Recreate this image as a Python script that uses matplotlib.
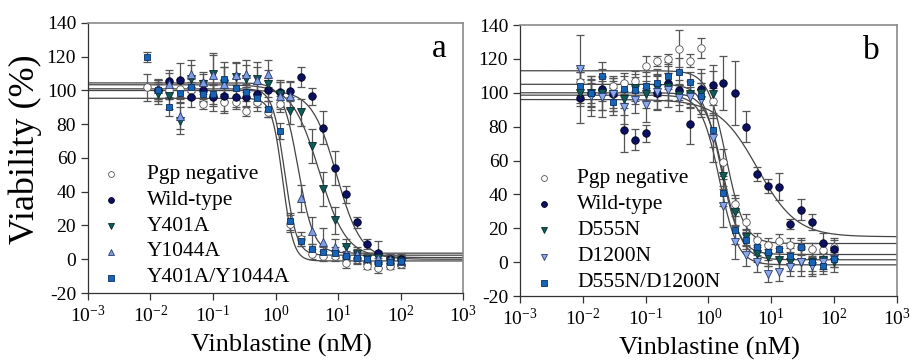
import matplotlib
matplotlib.use("Agg")
import matplotlib.pyplot as plt
import numpy as np

plt.rcParams["font.family"] = ["Liberation Serif", "DejaVu Serif"]
plt.rcParams["mathtext.fontset"] = "custom"
plt.rcParams["mathtext.rm"] = "Liberation Serif"
plt.rcParams["axes.unicode_minus"] = False

# vinblastine concentrations (nM)
conc = [0.0089, 0.0133, 0.02, 0.03, 0.045, 0.068, 0.1, 0.15, 0.23, 0.34, 0.51, 0.77,
        1.16, 1.73, 2.6, 3.9, 5.85, 8.8, 13.2, 19.8, 29.6, 44.4, 66.7, 100]
nan = np.nan

# panel a
a_names = ["Pgp negative", "Wild-type", "Y401A", "Y1044A", "Y401A/Y1044A"]
a_pgp = [102, 100, 100, 101, 100, 92, 97, 93, 93, 88, 93, 87, 92, 21, 12, 3, 2, 2, -2, 0, -4, -5, -4, -3]
a_wt = [nan, 100, 105.5, 106, 96, 100, 96, 96.6, 96, 96, 98, 100, 99, 99.6, 108, 96.6, 78, 54, 38.6, 21.8, 9, 4, 0, 0]
a_y401 = [nan, 98, 97, 82, 107, 104, 110, 104, 108, 107, 107, 104, 98, 88, 87, 67, 41.6, 23, 7, 3, 0, 1, -1, -1]
a_y1044 = [nan, 101, 104, 85, 110, 105, 109, 104, 109, 110, 106, 110, 97, 97, 36, 17, 10.5, 7, 4, 3, 1, 1, 0, -1]
a_dbl = [120, 100, 90, 98.6, 102, 98, 98, 107, 101.6, 99, 95.5, 89, 76, 22.4, 11, 6, 4.5, 4, 2, 1, 0, -2, -1.6, -1]
a_err_pgp = [8, 6, 5, 6, 5, 3, 6, 5, 3, 3, 5, 3, 5, 5, 4, 3, 3, 3, 3, 3, 2, 3, 2, 2]
a_err_wt = [nan, 6, 5, 10, 6, 6, 8, 10, 7, 6, 6, 6, 6, 6, 6, 5, 10, 10, 5, 3, 3, 7, 3, 3]
a_err_y401 = [nan, 6, 8, 8, 8, 6, 12, 10, 8, 8, 10, 8, 8, 8, 8, 10, 10, 8, 5, 4, 3, 4, 3, 3]
a_err_y1044 = [nan, 6, 8, 8, 8, 6, 12, 10, 8, 8, 8, 8, 8, 8, 8, 8, 8, 5, 4, 3, 3, 3, 3, 3]
a_err_dbl = [3, 5, 5, 6, 5, 5, 6, 10, 6, 5, 5, 5, 5, 5, 3, 3, 3, 3, 3, 3, 3, 3, 3, 3]
# Hill fit: top, bottom, IC50, slope
a_top = [95.4, 100, 103.4, 104.5, 101]
a_bottom = [-1, 0, 1, 3.6, 2.4]
a_ic50 = [1.3, 9.5, 5.0, 2.3, 1.4]
a_slope = [5, 2.2, 2.0, 3.5, 4.5]

# panel b
b_names = ["Pgp negative", "Wild-type", "D555N", "D1200N", "D555N/D1200N"]
b_pgp = [106.5, 100, 101, 104, 105.5, 107, 116, 119, 120, 126, 119, 126.6, 95, 59, 34.5, 23.7, 13, 10, 12.4, 10, 9, 7.5, 7, 9]
b_wt = [97, 100, 102, 99, 78, 72.4, 76, 100, 106, 101.6, 81.5, 102, 104.5, 106, 100, 80, 52, 45, 44.6, 22.7, 31, 23.7, 11.2, 8]
b_d555 = [100, 100, 100, 99, 96.6, 103, 99, 103, 103.5, 98.6, 99, 99.6, 99, 51, 29.6, 14.6, 5, 3, 1, 0, 0, 0, 1, 0]
b_d1200 = [114, 98, 97.6, 99, 91.3, 96, 92.7, 100.6, 101.6, 97, 97.6, 95.7, 73, 33, 12, 4, 0, -7, -6, -3, 0, -2, 0, 2]
b_dbl = [104, 99.6, 110, 94.7, 102, 101.6, 104, 106, 110, 112.4, 106.5, 98, 78, 41, 19, 13, 9, 6, 7.5, 3.4, 9, 0, -2, 2]
b_err_pgp = [8, 6, 6, 6, 6, 6, 6, 3, 3, 11, 4, 6, 8, 8, 5, 5, 4, 4, 4, 4, 4, 4, 4, 4]
b_err_wt = [15, 10, 12, 10, 13, 6, 5, 10, 10, 6, 12, 12, 12, 16, 19, 9, 4, 4, 8, 3, 6, 5, 6, 6]
b_err_d555 = [8, 8, 10, 8, 10, 8, 8, 8, 8, 6, 8, 12, 14, 8, 8, 5, 5, 5, 5, 5, 8, 8, 5, 6]
b_err_d1200 = [20, 12, 12, 10, 10, 8, 10, 10, 10, 8, 6, 10, 14, 12, 10, 6, 6, 5, 5, 5, 5, 5, 5, 5]
b_err_dbl = [8, 8, 8, 8, 8, 8, 8, 8, 8, 8, 6, 8, 10, 8, 8, 5, 5, 5, 5, 5, 5, 5, 5, 5]
b_top = [113, 96, 100, 98.6, 105]
b_bottom = [11, 15, 1.4, -1.6, 4.5]
b_ic50 = [1.9, 6.0, 1.75, 1.5, 1.6]
b_slope = [3, 1.4, 3, 3, 3]

a_markers = ["o", "o", "v", "^", "s"]
b_markers = ["o", "o", "v", "v", "s"]
a_faces = ["white", "#0b1060", "#0f5a5a", "#7f9de3", "#1763b5"]
b_faces = ["white", "#0b1060", "#0f5a5a", "#8aa8ea", "#1763b5"]
edges = ["#555555", "#000020", "#0a2a2a", "#2a3a70", "#0a2f60"]


def hill(x, top, bottom, ic50, slope):
    return bottom + (top - bottom) / (1 + (x / ic50) ** slope)


def draw_panel(ax, names, series, errs, markers, faces, top, bottom, ic50, slope, letter, leg):
    xs = np.logspace(-3, 3, 600)
    for i in range(len(names)):
        ax.plot(xs, hill(xs, top[i], bottom[i], ic50[i], slope[i]), color="#444444", lw=0.9, zorder=2)
    for i in range(len(names)):
        ax.errorbar(conc, series[i], yerr=errs[i], fmt="none", ecolor="#555555",
                    elinewidth=0.9, capsize=3.2, capthick=0.9, zorder=3)
    for i in range(len(names)):
        ax.plot(conc, series[i], ls="none", marker=markers[i], ms=5.4 if markers[i] != "s" else 5.0,
                mfc=faces[i], mec=edges[i], mew=0.6, zorder=4)
    # legend drawn by hand, positions in data units
    mx, tx, ly, step = leg
    for i, name in enumerate(names):
        ax.plot([mx], [ly - i * step], ls="none", marker=markers[i], ms=4.2,
                mfc=faces[i], mec=edges[i], mew=0.6, clip_on=False, zorder=5)
        ax.text(tx, ly - i * step, name, fontsize=15.5, va="center", ha="left", zorder=5)
    ax.set_xscale("log")
    ax.set_xlim(1e-3, 1e3)
    ax.set_ylim(-20, 140)
    ax.set_yticks(range(-20, 141, 20))
    ax.set_xticks([10.0 ** n for n in range(-3, 4)])
    ax.set_xticklabels([r"$\mathregular{10^{%d}}$" % n for n in range(-3, 4)])
    ax.minorticks_off()
    ax.tick_params(labelsize=14, direction="out", length=5, width=0.9, colors="#333333",
                   labelcolor="black")
    for side in ["top", "right"]:
        ax.spines[side].set_color("#8a8a8a")
        ax.spines[side].set_linewidth(1.2)
    for side in ["left", "bottom"]:
        ax.spines[side].set_color("#333333")
        ax.spines[side].set_linewidth(0.9)
    ax.text(0.955, 0.905, letter, transform=ax.transAxes, fontsize=24, ha="right", va="center")


fig = plt.figure(figsize=(9.1, 3.62), dpi=100)
ax_a = fig.add_axes([0.0967, 0.1906, 0.4121, 0.7459])
ax_b = fig.add_axes([0.5714, 0.1823, 0.4143, 0.7486])

draw_panel(ax_a, a_names, [a_pgp, a_wt, a_y401, a_y1044, a_dbl],
           [a_err_pgp, a_err_wt, a_err_y401, a_err_y1044, a_err_dbl], a_markers, a_faces,
           a_top, a_bottom, a_ic50, a_slope, "a", (0.0023, 0.0088, 50.5, 15.4))
draw_panel(ax_b, b_names, [b_pgp, b_wt, b_d555, b_d1200, b_dbl],
           [b_err_pgp, b_err_wt, b_err_d555, b_err_d1200, b_err_dbl], b_markers, b_faces,
           b_top, b_bottom, b_ic50, b_slope, "b", (0.0024, 0.0082, 49.5, 15.4))

fig.text(25 / 910, 1 - 149 / 362, "Viability (%)", rotation=90, fontsize=26, ha="center", va="center")
fig.text(281 / 910, 1 - 345 / 362, "Vinblastine (nM)", fontsize=19, ha="center", va="center")
fig.text(709 / 910, 1 - 348 / 362, "Vinblastine (nM)", fontsize=19, ha="center", va="center")

fig.savefig("out.png", dpi=100)
